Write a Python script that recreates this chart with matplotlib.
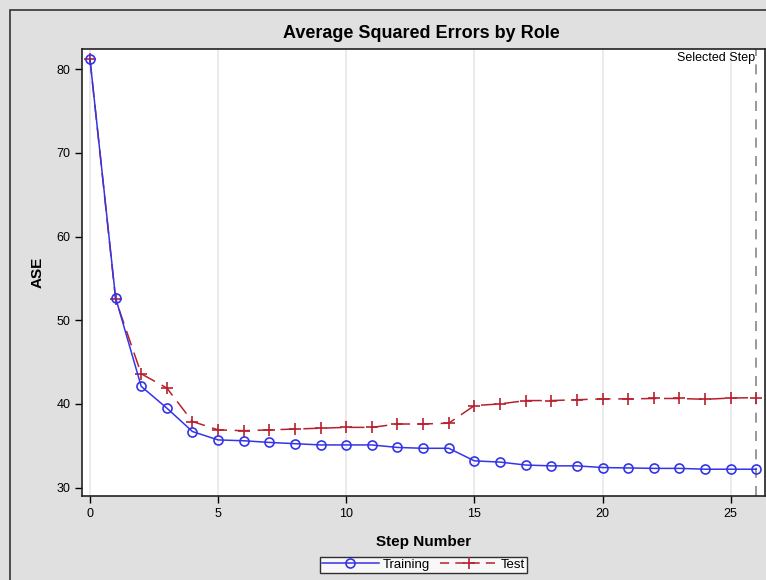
import matplotlib
matplotlib.use('Agg')
import matplotlib.pyplot as plt
from matplotlib.lines import Line2D
from matplotlib.patches import Rectangle

plt.rcParams['font.family'] = ['Liberation Sans', 'DejaVu Sans']

# 데이터
steps = list(range(27))
train_ase = [81.2, 52.7, 42.1, 39.5, 36.7, 35.7, 35.6, 35.4, 35.25, 35.1, 35.1, 35.1, 34.8,
             34.7, 34.7, 33.2, 33.05, 32.7, 32.6, 32.6, 32.4, 32.35, 32.3, 32.3, 32.2, 32.2, 32.2]
test_ase = [81.2, 52.5, 43.6, 41.9, 37.9, 36.9, 36.8, 36.9, 37.0, 37.1, 37.2, 37.2, 37.6,
            37.6, 37.7, 39.8, 40.0, 40.4, 40.4, 40.5, 40.6, 40.6, 40.65, 40.65, 40.55, 40.7, 40.75]
selected_step = 26
x_ticks = [0, 5, 10, 15, 20, 25]
y_ticks = [30, 40, 50, 60, 70, 80]

train_color = '#3434e8'
test_color = '#b8202f'

fig = plt.figure(figsize=(7.66, 5.8), dpi=100)
fig.patch.set_facecolor('#e0e0e0')

# 바깥 테두리 (왼쪽/위쪽만 보임)
fig.patches.append(Rectangle((10 / 766, -0.1), 1.2, (570 / 580) + 0.1, transform=fig.transFigure,
                             fill=False, edgecolor='#333333', lw=1.2, zorder=0))

ax = fig.add_axes([82 / 766, 84 / 580, 683 / 766, 447 / 580])
ax.set_facecolor('white')

# 세로 그리드
for xv in x_ticks:
    ax.axvline(xv, color='#e8e8e8', lw=1.2, zorder=0)

ax.plot(steps, train_ase, color=train_color, lw=1.1, marker='o', ms=6.5,
        mfc='none', mec=train_color, mew=1.2, label='Training', zorder=3)
ax.plot(steps, test_ase, color=test_color, lw=1.1, ls=(0, (10, 5)), marker='+', ms=8,
        mec=test_color, mew=1.2, label='Test', zorder=2)

ax.axvline(selected_step, color='#888888', lw=1.2, ls=(0, (6, 5)), zorder=1)
ax.text(selected_step - 0.05, 82.1, 'Selected Step', ha='right', va='top', fontsize=9)

ax.set_xlim(-0.31, 26.34)
ax.set_ylim(29.0, 82.4)
ax.set_xticks(x_ticks)
ax.set_yticks(y_ticks)
ax.tick_params(labelsize=9, length=5, width=1, direction='out')
for s in ax.spines.values():
    s.set_linewidth(1.2)
    s.set_color('#222222')

ax.set_xlabel('Step Number', fontsize=11, fontweight='bold', labelpad=11)
ax.set_ylabel('ASE', fontsize=11, fontweight='bold', labelpad=8)
fig.text(0.55, 0.943, 'Average Squared Errors by Role', ha='center', va='center',
         fontsize=13, fontweight='bold')

handles = [Line2D([], [], color=train_color, lw=1.1, marker='o', ms=6.5, mfc='none',
                  mec=train_color, mew=1.2),
           Line2D([], [], color=test_color, lw=1.1, ls=(0, (6, 4)), marker='+', ms=8,
                  mec=test_color, mew=1.2)]
leg = fig.legend(handles, ['Training', 'Test'], loc='center', bbox_to_anchor=(0.553, 0.026),
                 ncol=2, fontsize=9.5, frameon=True, fancybox=False, edgecolor='black',
                 handlelength=4.3, handletextpad=0.3, columnspacing=0.8, borderpad=0.15,
                 borderaxespad=0)
leg.get_frame().set_linewidth(1.0)
leg.get_frame().set_facecolor('white')

plt.savefig('out.png', dpi=100, facecolor=fig.get_facecolor())
